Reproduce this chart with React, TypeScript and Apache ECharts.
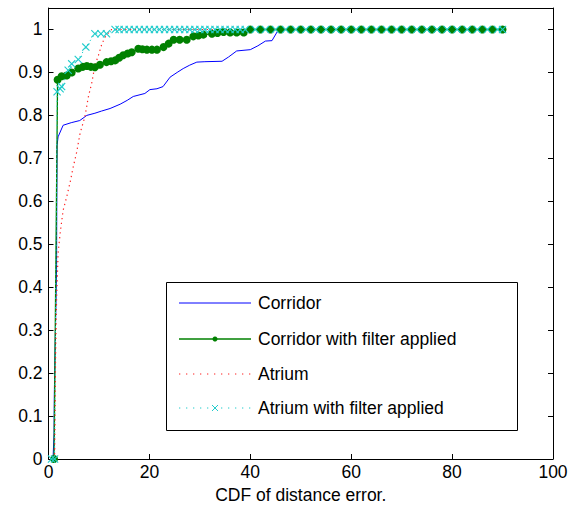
import React, { useEffect, useRef } from 'react';
import * as echarts from 'echarts';

// x range / ticks
const xMin = 0;
const xMax = 100;
const xStep = 20;
const yMin = 0;
const yMax = 1.05;
const yStep = 0.1;

const seriesNames = [
  'Corridor',
  'Corridor with filter applied',
  'Atrium',
  'Atrium with filter applied',
];

const corridor: [number, number][] = [
  [0.9, 0], [1.1, 0.06], [1.15, 0.15], [1.5, 0.38], [1.6, 0.44], [1.65, 0.62], [1.7, 0.73],
  [1.9, 0.75], [2.9, 0.777], [4.5, 0.783], [6.2, 0.788], [7.6, 0.8], [9.2, 0.805], [10.5, 0.81],
  [12.2, 0.816], [14.2, 0.826], [15.6, 0.835], [16.8, 0.844], [19.1, 0.851], [20.1, 0.86],
  [21.5, 0.862], [22.7, 0.867], [24.1, 0.889], [25.5, 0.9], [26.7, 0.909], [28, 0.917],
  [29.4, 0.924], [31, 0.925], [34.4, 0.926], [35.7, 0.936], [37.3, 0.95], [40, 0.953],
  [41.5, 0.962], [43, 0.973], [44.3, 0.974], [45.6, 1.0], [90, 1.0],
];

const corridorFiltered: [number, number][] = [
  [1.1, 0], [1.8, 0.883], [2.6, 0.891], [3.6, 0.893], [4.6, 0.9], [5.9, 0.909], [6.8, 0.913],
  [7.6, 0.915], [8.4, 0.913], [9.2, 0.912], [10.2, 0.918], [11.5, 0.924], [12.4, 0.926],
  [13.2, 0.928], [14, 0.934], [14.8, 0.94], [15.7, 0.944], [16.5, 0.947], [17.8, 0.955],
  [18.6, 0.954], [19.5, 0.953], [20.5, 0.953], [21.5, 0.953], [22.8, 0.959], [23.8, 0.967],
  [24.8, 0.976], [26, 0.976], [27.4, 0.976], [28.7, 0.984], [29.7, 0.986], [30.7, 0.988],
  [32.4, 0.99], [33.5, 0.992], [34.7, 0.994], [36, 0.993], [37.3, 0.993], [38.7, 0.993],
  [40, 1], [42, 1], [44, 1], [46, 1], [48, 1], [50, 1], [52, 1], [54, 1], [56, 1], [58, 1],
  [60, 1], [62, 1], [64, 1], [66, 1], [68, 1], [70, 1], [72, 1], [74, 1], [76, 1], [78, 1],
  [80, 1], [82, 1], [84, 1], [86, 1], [88, 1], [90, 1],
];

const atrium: [number, number][] = [
  [1.2, 0], [1.3, 0.09], [1.4, 0.238], [1.6, 0.37], [1.9, 0.479], [2.3, 0.525], [2.9, 0.579],
  [3.6, 0.61], [4.3, 0.645], [4.9, 0.68], [5.6, 0.715], [6.25, 0.758], [7.2, 0.796],
  [7.9, 0.843], [8.6, 0.877], [9.2, 0.916], [9.9, 0.94], [10.6, 0.967], [11.4, 0.986],
  [12.5, 1], [90, 1],
];

const atriumFiltered: [number, number][] = [
  [0.6, 0], [1.2, 0], [1.7, 0.855], [2.3, 0.862], [2.6, 0.867], [3.9, 0.905], [4.6, 0.92],
  [5.9, 0.93], [7.4, 0.959], [9.2, 0.99], [10.4, 0.99], [11.5, 0.99], [13.2, 1], [14, 1],
  [15, 1], [16, 1], [17, 1], [18, 1], [19, 1], [20, 1], [21, 1], [22, 1], [23, 1], [24, 1],
  [25, 1], [26, 1], [27, 1], [28, 1], [29, 1], [30, 1], [31, 1], [32, 1], [33, 1], [34, 1],
  [35, 1], [36, 1], [37, 1], [38, 1], [39, 1], [41, 1], [43, 1], [45, 1], [47, 1], [49, 1],
  [51, 1], [53, 1], [55, 1], [57, 1], [59, 1], [61, 1], [63, 1], [65, 1], [67, 1], [69, 1],
  [71, 1], [73, 1], [75, 1], [77, 1], [79, 1], [81, 1], [83, 1], [85, 1], [87, 1], [89, 1],
  [90, 1],
];

const BLUE = '#0000ff';
const GREEN = '#008000';
const RED = '#ff2020';
const CYAN = '#22cccc';
const FONT = '"Liberation Sans", Arial, Helvetica, sans-serif';
const FS = 17.5;

const X_MARK =
  'path://M0,1 L1,0 L5,4 L9,0 L10,1 L6,5 L10,9 L9,10 L5,6 L1,10 L0,9 L4,5 Z';

export default function App() {
  const ref = useRef<HTMLDivElement>(null);

  useEffect(() => {
    const chart = echarts.init(ref.current!, null, { renderer: 'svg' });

    const axisCommon = {
      type: 'value' as const,
      splitLine: { show: false },
      axisLine: { show: true, onZero: false, lineStyle: { color: '#000', width: 1 } },
      axisTick: { show: true, inside: true, length: 5, lineStyle: { color: '#000' } },
    };

    const legendX0 = 179;
    const legendX1 = 251;
    const legendTextX = 258;
    const rowY = [303, 339, 374, 408];
    const midX = (legendX0 + legendX1) / 2;

    const legendGraphics: any[] = [
      {
        type: 'rect',
        z: 100,
        shape: { x: 166.5, y: 282.5, width: 351, height: 148 },
        style: { fill: '#fff', stroke: '#000', lineWidth: 1 },
      },
      {
        type: 'line', z: 101,
        shape: { x1: legendX0, y1: rowY[0], x2: legendX1, y2: rowY[0] },
        style: { stroke: BLUE, lineWidth: 1 },
      },
      {
        type: 'line', z: 101,
        shape: { x1: legendX0, y1: rowY[1], x2: legendX1, y2: rowY[1] },
        style: { stroke: GREEN, lineWidth: 1.3 },
      },
      {
        type: 'circle', z: 102,
        shape: { cx: midX, cy: rowY[1], r: 2.5 },
        style: { fill: GREEN },
      },
      {
        type: 'line', z: 101,
        shape: { x1: legendX0, y1: rowY[2], x2: legendX1, y2: rowY[2] },
        style: { stroke: RED, lineWidth: 1, lineDash: [1.3, 5.7] },
      },
      {
        type: 'line', z: 101,
        shape: { x1: legendX0, y1: rowY[3], x2: legendX1, y2: rowY[3] },
        style: { stroke: CYAN, lineWidth: 1, lineDash: [1.3, 5.7] },
      },
      {
        type: 'line', z: 102,
        shape: { x1: midX - 3, y1: rowY[3] - 3, x2: midX + 3, y2: rowY[3] + 3 },
        style: { stroke: CYAN, lineWidth: 1 },
      },
      {
        type: 'line', z: 102,
        shape: { x1: midX - 3, y1: rowY[3] + 3, x2: midX + 3, y2: rowY[3] - 3 },
        style: { stroke: CYAN, lineWidth: 1 },
      },
      ...seriesNames.map((name, i) => ({
        type: 'text',
        z: 102,
        x: legendTextX,
        y: rowY[i],
        style: {
          text: name,
          fill: '#000',
          fontSize: FS,
          fontFamily: FONT,
          verticalAlign: 'middle',
          align: 'left',
        },
      })),
    ];

    chart.setOption({
      animation: false,
      backgroundColor: '#fff',
      grid: { left: 48.5, right: 26, top: 8, bottom: 52, containLabel: false },
      xAxis: [
        {
          ...axisCommon,
          position: 'bottom',
          min: xMin,
          max: xMax,
          interval: xStep,
          axisLabel: { color: '#000', fontSize: FS, fontFamily: FONT, margin: 4 },
          name: 'CDF of distance error.',
          nameLocation: 'middle',
          nameGap: 19,
          nameTextStyle: { color: '#000', fontSize: FS, fontFamily: FONT },
        },
        {
          ...axisCommon,
          position: 'top',
          min: xMin,
          max: xMax,
          interval: xStep,
          axisLabel: { show: false },
        },
      ],
      yAxis: [
        {
          ...axisCommon,
          position: 'left',
          min: yMin,
          max: yMax,
          interval: yStep,
          axisLabel: {
            color: '#000',
            fontSize: FS,
            fontFamily: FONT,
            margin: 6,
            showMaxLabel: false,
            formatter: (v: number) => (v > 1.0001 ? '' : String(Math.round(v * 10) / 10)),
          },
        },
        {
          ...axisCommon,
          position: 'right',
          min: yMin,
          max: yMax,
          interval: yStep,
          axisLabel: { show: false },
        },
      ],
      series: [
        {
          name: seriesNames[0],
          type: 'line',
          data: corridor,
          symbol: 'none',
          lineStyle: { color: BLUE, width: 1 },
          itemStyle: { color: BLUE },
        },
        {
          name: seriesNames[1],
          type: 'line',
          data: corridorFiltered,
          symbol: 'circle',
          symbolSize: 8,
          lineStyle: { color: GREEN, width: 1.3 },
          itemStyle: { color: GREEN },
        },
        {
          name: seriesNames[2],
          type: 'line',
          data: atrium,
          symbol: 'none',
          lineStyle: { color: RED, width: 1.2, type: [1.3, 3.5] },
          itemStyle: { color: RED },
        },
        {
          name: seriesNames[3],
          type: 'line',
          data: atriumFiltered,
          symbol: X_MARK,
          symbolSize: 8,
          lineStyle: { color: CYAN, width: 1, type: [1.3, 3.5] },
          itemStyle: { color: CYAN },
        },
      ],
      graphic: legendGraphics,
    });

    return () => chart.dispose();
  }, []);

  return (
    <div
      ref={ref}
      style={{ position: 'absolute', left: 0, top: 0, width: 579, height: 511, background: '#fff' }}
    />
  );
}
